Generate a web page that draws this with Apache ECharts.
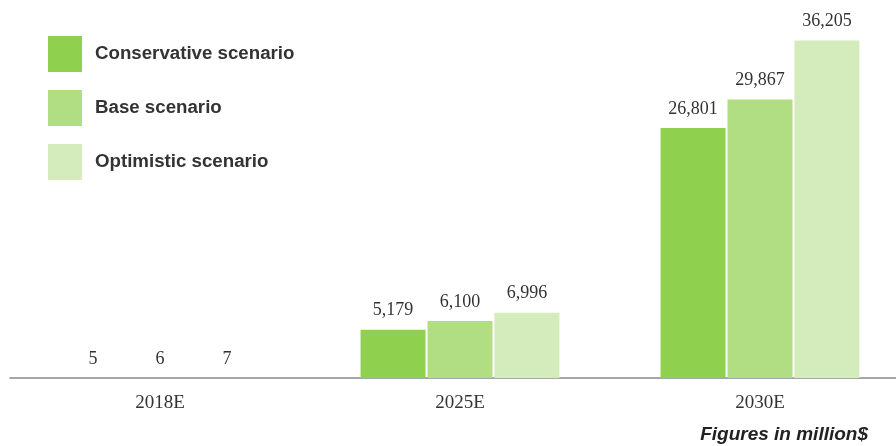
<!DOCTYPE html>
<html><head><meta charset="utf-8">
<script src="https://cdn.jsdelivr.net/npm/echarts@6/dist/echarts.min.js"></script>
<style>html,body{margin:0;padding:0;background:#fff}#c{width:896px;height:446px}</style>
</head><body><div id="c"></div>
<script>
const categories = ['2018E', '2025E', '2030E'];
const conservative = [5, 5179, 26801];
const base = [6, 6100, 29867];
const optimistic = [7, 6996, 36205];
const seriesNames = ['Conservative scenario', 'Base scenario', 'Optimistic scenario'];
const colors = ['#8fd14f', '#b1de83', '#d4ebbb'];
const note = 'Figures in million$';

const chart = echarts.init(document.getElementById('c'));
const labelStyle = {
  show: true, position: 'top', distance: 10,
  fontFamily: 'Liberation Serif', fontSize: 18, color: '#333',
  formatter: p => p.value.toLocaleString('en-US')
};
const mk = (name, data, i) => ({
  name, type: 'bar', data, barWidth: 65, barGap: '3%',
  itemStyle: { color: colors[i] }, label: labelStyle
});
chart.setOption({
  animation: false,
  color: colors,
  grid: { left: 10, width: 900, top: 5, bottom: 68, containLabel: false, outerBoundsMode: 'none' },
  legend: {
    orient: 'vertical', left: 48, top: 36, padding: 0, itemWidth: 34, itemHeight: 36, itemGap: 18,
    icon: 'rect',
    textStyle: { fontFamily: 'Liberation Sans', fontWeight: 'bold', fontSize: 18.7, color: '#333', padding: [4,0,0,8] },
    data: seriesNames
  },
  xAxis: {
    type: 'category', data: categories,
    axisLine: { lineStyle: { color: '#8a8a8a', width: 1.5 } },
    axisTick: { show: false },
    axisLabel: { fontFamily: 'Liberation Serif', fontSize: 19, color: '#333', margin: 16 }
  },
  yAxis: { type: 'value', min: 0, max: 40000, show: false, splitLine: { show: false } },
  title: {
    text: note, right: 28, top: 425, padding: 0,
    textStyle: { fontFamily: 'Liberation Sans', fontWeight: 'bold', fontStyle: 'italic', fontSize: 19, color: '#222' }
  },
  series: [mk(seriesNames[0], conservative, 0), mk(seriesNames[1], base, 1), mk(seriesNames[2], optimistic, 2)]
});
</script></body></html>
